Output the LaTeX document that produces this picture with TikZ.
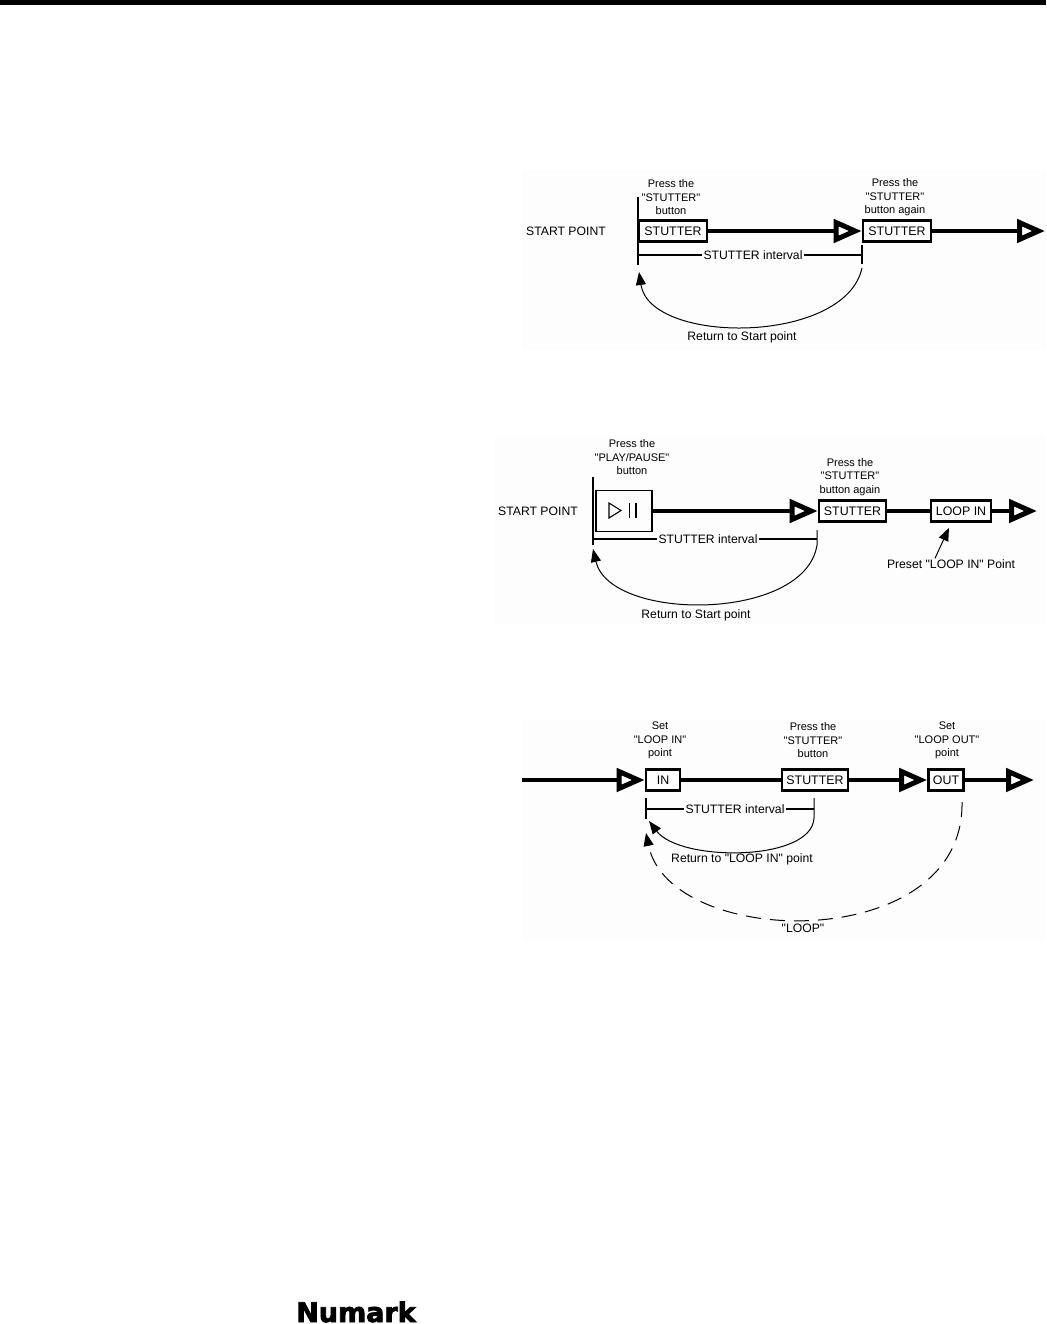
\documentclass[tikz,border=0pt]{standalone}
\usepackage{fontspec}
\newfontfamily\labelfont{Liberation Sans}
\newfontfamily\logofont[FakeBold=3]{DejaVu Sans Bold}
\usetikzlibrary{arrows.meta}
\tikzset{
  btn/.style={draw,line width=2.6pt,fill=white,inner sep=0pt,minimum height=21pt,font=\labelfont\fontsize{12.4}{13}\selectfont},
  flow/.style={line width=4pt,-{Triangle[open,fill=white,length=28pt,width=23pt,line width=5pt]}},
  plainflow/.style={line width=4pt},
  tick/.style={line width=1.2pt},
  thickmark/.style={line width=2pt},
  returnline/.style={line width=1pt,-{Triangle[length=13pt,width=10pt]}},
  pressnote/.style={align=center,inner sep=0pt,font=\labelfont\fontsize{11}{13.5}\selectfont},
  textnote/.style={inner sep=1pt,font=\labelfont\fontsize{12.2}{13}\selectfont},
  scanpatch/.style={fill=black!0.8}
}
\begin{document}
\begin{tikzpicture}[x=1pt,y=-1pt]
\useasboundingbox (0,0) rectangle (1046,1324);
\fill (0,0) rectangle (1046,5);
\fill[scanpatch] (522,170) rectangle (1046,350);
\fill[scanpatch] (495,436) rectangle (1046,625);
\fill[scanpatch] (522,720) rectangle (1046,940);

\node[textnote] (startA) at (566,231) {START POINT};
\node[pressnote] (pressA) at (671,197.5) {Press the\\"STUTTER"\\button};
\node[pressnote] (pressB) at (895,197.5) {Press the\\"STUTTER"\\button again};
\coordinate (markTopA) at (638,197);
\coordinate (markEndA) at (638,265);
\draw[thickmark] (markTopA) -- (markEndA);
\node[btn,minimum width=68pt] (stutterA) at (673,231) {STUTTER};
\node[btn,minimum width=68pt] (stutterB) at (897,231) {STUTTER};
\coordinate (flowEndA) at (1045,231);
\draw[flow] (stutterA) -- (stutterB);
\draw[flow] (stutterB) -- (flowEndA);
\node[textnote] (intervalA) at (753,255) {STUTTER interval};
\coordinate (leftA) at (638,255);
\coordinate (rightA) at (862,255);
\coordinate (rightTopA) at (862,245);
\coordinate (rightEndA) at (862,264);
\draw[tick] (leftA) -- (intervalA);
\draw[tick] (intervalA) -- (rightA);
\draw[tick] (rightTopA) -- (rightEndA);
\coordinate (backA) at (862,268);
\coordinate (tipA) at (639,272);
\draw[returnline] (backA) .. controls (845,345) and (650,345) .. (tipA);
\node[textnote] (returnA) at (742,337) {Return to Start point};

\node[textnote] (startB) at (538,511) {START POINT};
\node[pressnote] (pressC) at (632,457.5) {Press the\\"PLAY/PAUSE"\\button};
\node[pressnote] (pressD) at (850,477) {Press the\\"STUTTER"\\button again};
\coordinate (markTopB) at (593,477);
\coordinate (markEndB) at (593,545);
\draw[thickmark] (markTopB) -- (markEndB);
\node[draw,line width=1.8pt,inner sep=0pt,minimum width=56pt,minimum height=41pt] (playbtn) at (624,511) {};
\draw[line width=1.1pt] (609,503) -- (609,518) -- (621,510.5) -- cycle;
\draw[line width=1.1pt] (629.5,503) -- (629.5,518);
\draw[line width=1.1pt] (636,503) -- (636,518);
\node[btn,minimum width=67pt] (stutterC) at (852.5,511) {STUTTER};
\node[btn,minimum width=60pt] (loopin) at (961,511) {LOOP IN};
\coordinate (flowEndB) at (1037,511);
\draw[flow] (playbtn) -- (stutterC);
\draw[plainflow] (stutterC) -- (loopin);
\draw[flow] (loopin) -- (flowEndB);
\node[textnote] (intervalB) at (708,539) {STUTTER interval};
\coordinate (leftB) at (593,539);
\coordinate (rightB) at (817,539);
\coordinate (rightTopB) at (817,530);
\draw[tick] (leftB) -- (intervalB);
\draw[tick] (intervalB) -- (rightB);
\coordinate (tipB) at (593,549);
\draw[returnline] (rightTopB) -- (817,545) .. controls (805,622) and (610,622) .. (tipB);
\node[textnote] (returnB) at (696,615.5) {Return to Start point};
\node[textnote] (presetnote) at (951,564) {Preset "LOOP IN" Point};
\draw[returnline] ([xshift=-16pt]presetnote.north) -- ([shift={(-12,5)}]loopin.south);

\node[pressnote] (pressE) at (660,740.5) {Set\\"LOOP IN"\\point};
\node[pressnote] (pressF) at (813,740.5) {Press the\\"STUTTER"\\button};
\node[pressnote] (pressG) at (947,740.5) {Set\\"LOOP OUT"\\point};
\coordinate (flowStartC) at (522,780);
\node[btn,minimum width=34pt] (inbtn) at (663,780) {IN};
\node[btn,minimum width=66pt] (stutterD) at (815,780) {STUTTER};
\node[btn,minimum width=35pt] (outbtn) at (946,780) {OUT};
\coordinate (flowEndC) at (1034,780);
\draw[flow] (flowStartC) -- (inbtn);
\draw[plainflow] (inbtn) -- (stutterD);
\draw[flow] (stutterD) -- (outbtn);
\draw[flow] (outbtn) -- (flowEndC);
\node[textnote] (intervalC) at (735,809) {STUTTER interval};
\coordinate (leftTopC) at (646,798);
\coordinate (leftEndC) at (646,819);
\coordinate (leftC) at (646,809);
\coordinate (rightC) at (814,809);
\coordinate (rightTopC) at (814,798);
\draw[tick] (leftTopC) -- (leftEndC);
\draw[tick] (leftC) -- (intervalC);
\draw[tick] (intervalC) -- (rightC);
\coordinate (tipC) at (649,821);
\draw[returnline] (rightTopC) -- (814,818) .. controls (812,862) and (680,862) .. (tipC);
\node[textnote] (returnC) at (742,859) {Return to "LOOP IN" point};
\coordinate (loopStart) at (962,802);
\coordinate (tipD) at (646,833);
\draw[returnline,dash pattern=on 15pt off 9pt] (loopStart) .. controls (965,955) and (670,950) .. (tipD);
\node[textnote,fill=black!0.8] (loopnote) at (803,928) {"LOOP"};

\node[anchor=base,inner sep=0pt,font=\logofont\fontsize{27}{28}\selectfont] (logo) at (356,1322) {Numark};
\end{tikzpicture}
\end{document}
